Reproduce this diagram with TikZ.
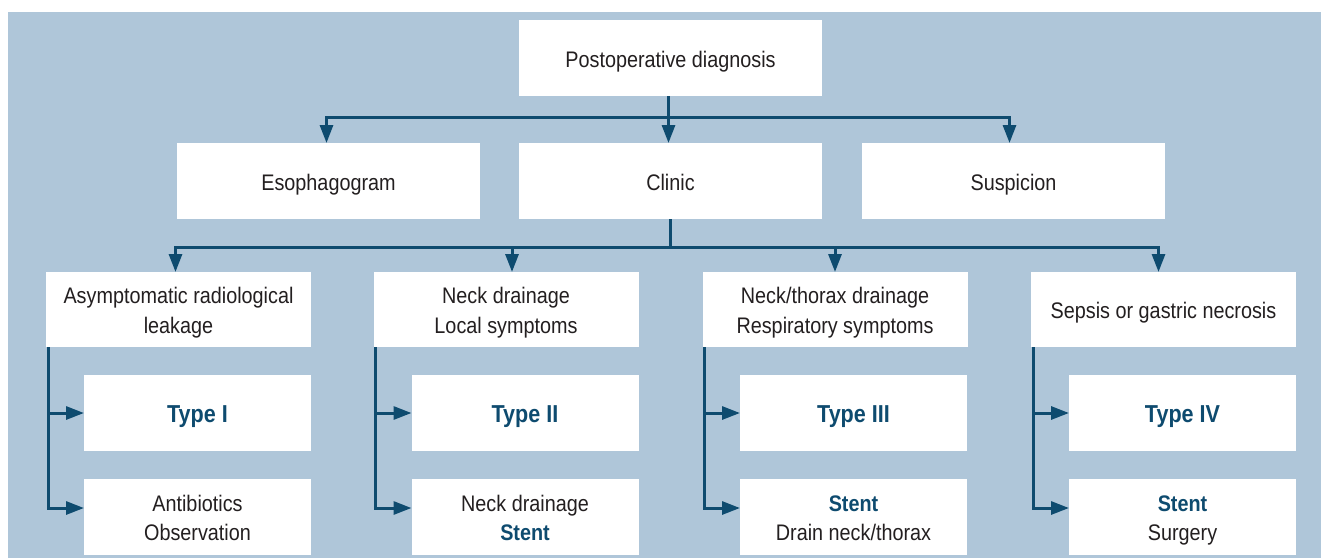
\documentclass[tikz,border=0pt]{standalone}
\usepackage{fontspec}
\setmainfont{Liberation Sans}[FakeStretch=0.88]
\usetikzlibrary{arrows.meta,calc}
\definecolor{bgblue}{HTML}{AFC6D9}
\definecolor{linkblue}{HTML}{0E4B6F}
\definecolor{txt}{HTML}{231F20}
\newcommand\boxstrut{\rule[-5.75pt]{0pt}{29.5pt}}
\newcommand\twostrut{\rule[-5.75pt]{0pt}{58.7pt}}
\begin{document}
\begin{tikzpicture}[x=1pt,y=-1pt,
  box/.style={fill=white, inner sep=0pt, outer sep=0pt, align=center, text=txt,
    font=\fontsize{22.5}{29.5}\selectfont,
    execute at begin node=\boxstrut, execute at end node=\boxstrut},
  twoline/.style={execute at end node=\twostrut},
  topbox/.style={box, minimum width=303pt, minimum height=76pt},
  rowbox/.style={box, minimum width=265pt, minimum height=75pt},
  typebox/.style={box, minimum width=227pt, minimum height=76pt, text=linkblue,
    font=\fontsize{24.5}{29.5}\selectfont\bfseries},
  endbox/.style={box, twoline, minimum width=227pt, minimum height=76pt},
  conn/.style={draw=linkblue, line width=3pt},
  arr/.style={conn, -{Triangle[length=18pt,width=13pt]}}
]
\useasboundingbox (0,0) rectangle (1321,558);
\fill[bgblue] (8,12) rectangle (1321,558);

% level 1 and 2
\node[topbox] (post) at (670.5,58) {Postoperative diagnosis};
\node[topbox] (eso) at (328.5,181) {Esophagogram};
\node[topbox] (clinic) at (670.5,181) {Clinic};
\node[topbox] (susp) at (1013.5,181) {Suspicion};

% level 3
\node[rowbox, twoline] (r1) at (178.5,309.5) {Asymptomatic radiological\\leakage};
\node[rowbox, twoline] (r2) at (506,309.5) {Neck drainage\\Local symptoms};
\node[rowbox, twoline] (r3) at (835,309.5) {Neck/thorax drainage\\Respiratory symptoms};
\node[rowbox] (r4) at (1163.5,309.5) {Sepsis or gastric necrosis};

% types
\node[typebox] (t1) at (197.5,413) {Type I};
\node[typebox] (t2) at (525,413) {Type II};
\node[typebox] (t3) at (853.5,413) {Type III};
\node[typebox] (t4) at (1182.5,413) {Type IV};

% treatments
\node[endbox] (b1) at (197.5,517) {Antibiotics\\Observation};
\node[endbox] (b2) at (525,517) {Neck drainage\\{\bfseries\color{linkblue}Stent}};
\node[endbox] (b3) at (853.5,517) {{\bfseries\color{linkblue}Stent}\\Drain neck/thorax};
\node[endbox] (b4) at (1182.5,517) {{\bfseries\color{linkblue}Stent}\\Surgery};

% connectors level 1 -> 2
\draw[conn] ($(post.south)+(-2,0)$) -- ++(0,21) coordinate (bus1);
\draw[arr] (bus1) -| ($(eso.north)+(-2,0)$);
\draw[arr] (bus1) -- ($(clinic.north)+(-2,0)$);
\draw[arr] (bus1) -| ($(susp.north)+(-4,0)$);

% connectors clinic -> level 3
\draw[conn] (clinic.south) -- ++(0,28) coordinate (bus2);
\draw[arr] (bus2) -| ($(r1.north)+(-3,0)$);
\draw[arr] (bus2) -| ($(r2.north)+(6,0)$);
\draw[arr] (bus2) -| (r3.north);
\draw[arr] (bus2) -| ($(r4.north)+(-5,0)$);

% rails
\foreach \i in {1,2,3,4}{
  \coordinate (rail\i) at ($(r\i.south west)+(2,0)$);
  \draw[arr] (rail\i) |- (t\i.west);
  \draw[arr] (rail\i) |- ($(b\i.west)+(0,-9)$);
}
\end{tikzpicture}
\end{document}
